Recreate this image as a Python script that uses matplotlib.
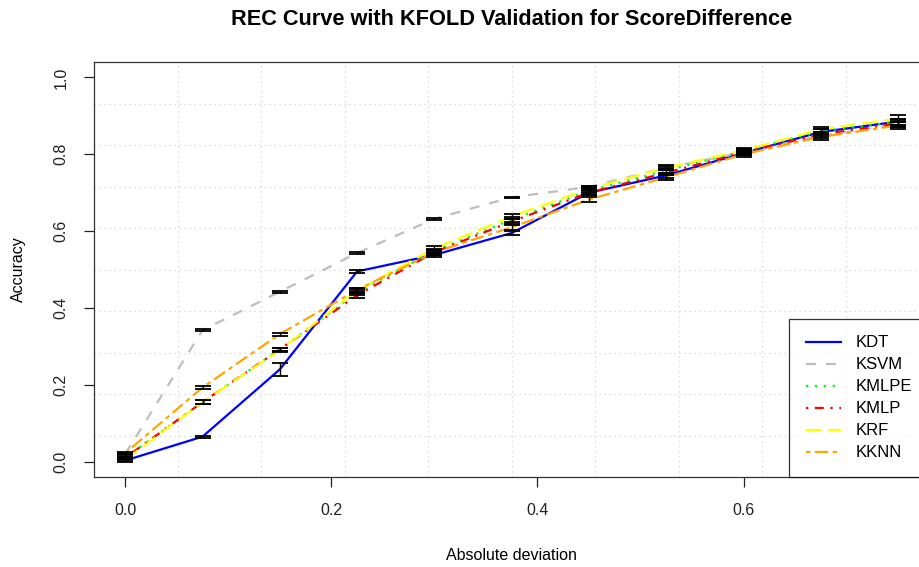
import numpy as np
import matplotlib
matplotlib.use("Agg")
import matplotlib.pyplot as plt

plt.rcParams['font.family'] = ['Liberation Sans', 'DejaVu Sans']

# absolute deviation thresholds
x = [0, 0.075, 0.15, 0.225, 0.3, 0.375, 0.45, 0.525, 0.6, 0.675, 0.75]

# mean accuracy per model
kdt = [0.003, 0.065, 0.240, 0.495, 0.538, 0.595, 0.700, 0.745, 0.803, 0.858, 0.885]
ksvm = [0.020, 0.342, 0.442, 0.543, 0.632, 0.688, 0.715, 0.765, 0.805, 0.848, 0.878]
kmlpe = [0.010, 0.155, 0.292, 0.440, 0.548, 0.630, 0.705, 0.758, 0.808, 0.860, 0.885]
kmlp = [0.010, 0.155, 0.292, 0.433, 0.545, 0.625, 0.700, 0.752, 0.805, 0.852, 0.880]
krf = [0.005, 0.155, 0.290, 0.445, 0.555, 0.638, 0.710, 0.765, 0.810, 0.865, 0.893]
kknn = [0.022, 0.193, 0.332, 0.447, 0.545, 0.610, 0.682, 0.740, 0.800, 0.845, 0.875]

# fold spread (error bar half heights)
kdt_err = [0.003, 0.003, 0.016, 0.005, 0.005, 0.006, 0.007, 0.006, 0.005, 0.007, 0.008]
ksvm_err = [0.002, 0.002, 0.002, 0.002, 0.002, 0.002, 0.003, 0.004, 0.004, 0.005, 0.006]
kmlpe_err = [0.003, 0.005, 0.005, 0.006, 0.006, 0.007, 0.007, 0.006, 0.006, 0.007, 0.008]
kmlp_err = [0.003, 0.005, 0.005, 0.007, 0.006, 0.007, 0.007, 0.006, 0.006, 0.007, 0.008]
krf_err = [0.003, 0.005, 0.005, 0.006, 0.006, 0.007, 0.007, 0.006, 0.006, 0.007, 0.008]
kknn_err = [0.003, 0.005, 0.004, 0.006, 0.006, 0.007, 0.007, 0.006, 0.006, 0.007, 0.008]

labels = ['KDT', 'KSVM', 'KMLPE', 'KMLP', 'KRF', 'KKNN']
series = [kdt, ksvm, kmlpe, kmlp, krf, kknn]
errors = [kdt_err, ksvm_err, kmlpe_err, kmlp_err, krf_err, kknn_err]
colors = ['#0000FF', '#BEBEBE', '#00FF00', '#FF0000', '#FFFF00', '#FFA500']
dashes = [None, (4.5, 4.5), (1, 3), (1, 3, 4, 3), (7, 3), (2, 2, 6, 2)]

fig = plt.figure(figsize=(9.2, 5.67), dpi=100)
ax = fig.add_axes([0.1025, 0.1587, 0.9073, 0.7319])

xmin, xmax = -0.03, 0.78
ymin, ymax = -0.04, 1.04
ax.set_xlim(xmin, xmax)
ax.set_ylim(ymin, ymax)

# R style grid(): 10 equal cells over the plot region
for gx in np.linspace(xmin, xmax, 11)[1:-1]:
    ax.axvline(gx, color='lightgray', lw=0.9, ls=(0, (1, 3)), zorder=0)
for gy in np.linspace(ymin, ymax, 11)[1:-1]:
    ax.axhline(gy, color='lightgray', lw=0.9, ls=(0, (1, 3)), zorder=0)

for name, y, e, c, d in zip(labels, series, errors, colors, dashes):
    line, = ax.plot(x, y, color=c, lw=1.6, label=name, zorder=2)
    if d is not None:
        line.set_dashes(d)
    ax.errorbar(x, y, yerr=e, fmt='none', ecolor='black', elinewidth=1,
                capsize=5.5, capthick=1.3, zorder=3)

ax.set_xticks([0, 0.2, 0.4, 0.6])
ax.set_xticklabels(['0.0', '0.2', '0.4', '0.6'])
ax.set_yticks([0, 0.2, 0.4, 0.6, 0.8, 1.0])
ax.set_yticklabels(['0.0', '0.2', '0.4', '0.6', '0.8', '1.0'],
                   rotation=90, va='center')
ax.tick_params(axis='both', direction='out', length=7.5, width=0.9,
               labelsize=11.5, colors='#222222')
ax.tick_params(axis='x', pad=11)
ax.tick_params(axis='y', pad=11)
for s in ax.spines.values():
    s.set_linewidth(0.9)
    s.set_color('#333333')

ax.set_xlabel('Absolute deviation', fontsize=11.5, labelpad=22)
ax.set_ylabel('Accuracy', fontsize=11.5, labelpad=20)
ax.set_title('REC Curve with KFOLD Validation for ScoreDifference',
             fontsize=15.7, fontweight='bold', pad=27)

leg = ax.legend(loc='lower right', bbox_to_anchor=(1, 0), borderaxespad=0,
                fontsize=12, frameon=True, fancybox=False, handlelength=2.1,
                handletextpad=0.9, borderpad=1.0, labelspacing=0.42)
leg.get_frame().set_edgecolor('black')
leg.get_frame().set_linewidth(0.9)

fig.savefig('out.png', dpi=100)
